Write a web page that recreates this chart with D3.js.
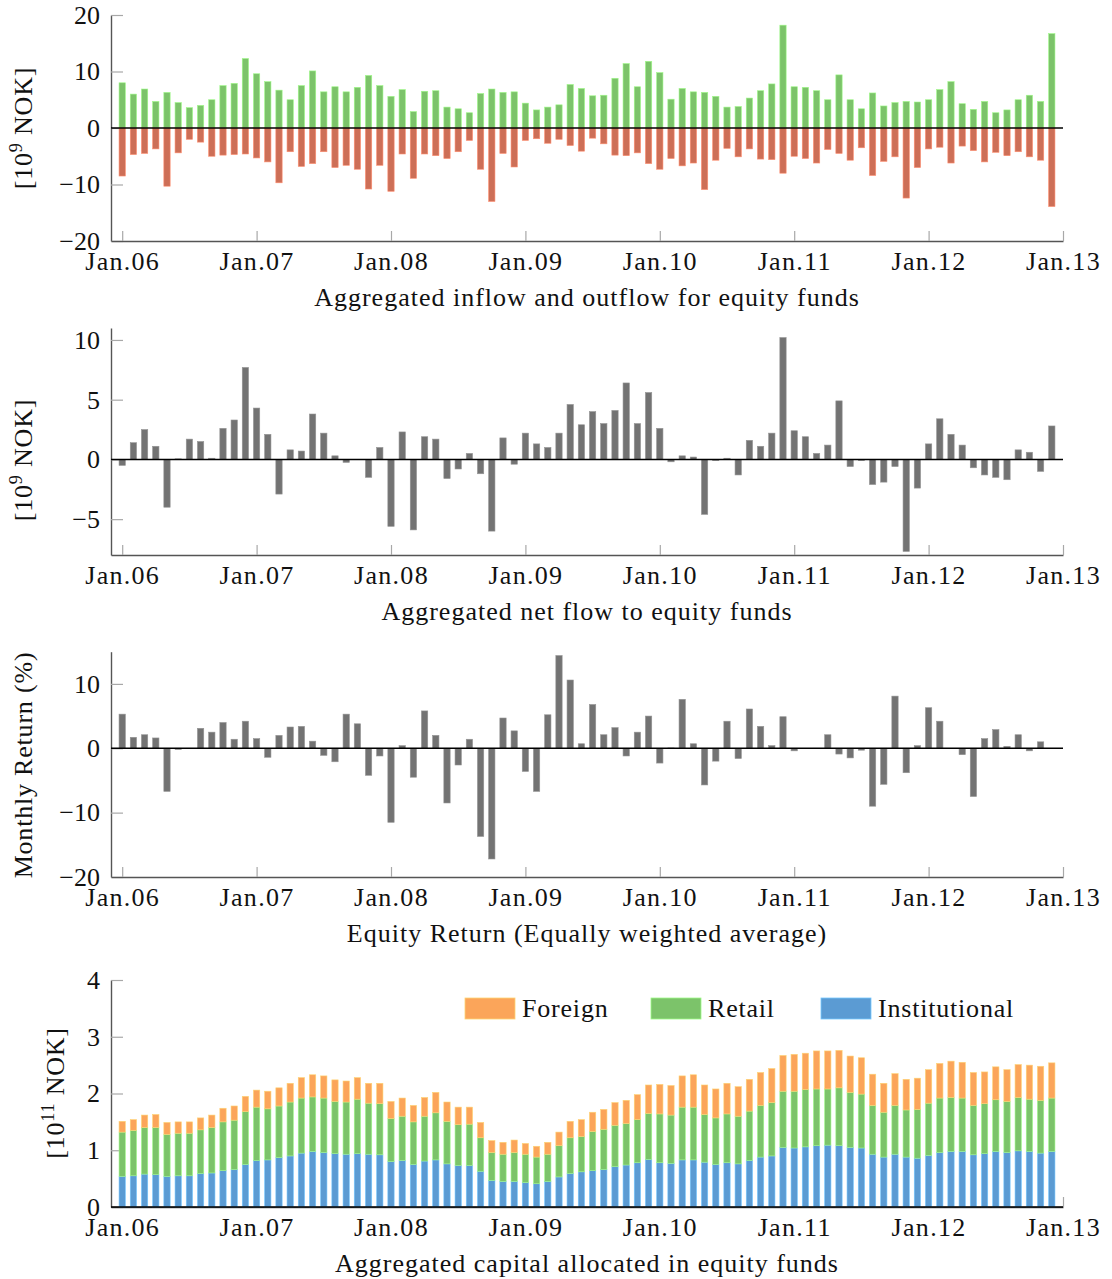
<!DOCTYPE html>
<html>
<head>
<meta charset="utf-8">
<script src="https://cdn.jsdelivr.net/npm/d3@7"></script>
<style>
  body { margin: 0; background: #fff; }
  svg text { font-family: "Liberation Serif", "Times New Roman", serif; fill: #111; }
</style>
</head>
<body>
<div id="vis"></div>
<script>
// month index 0 = Jan.06 ... 83 = Dec.12
const tickLabels = ["Jan.06", "Jan.07", "Jan.08", "Jan.09", "Jan.10", "Jan.11", "Jan.12", "Jan.13"];

const inflow = [
  8.0, 6.0, 6.9, 4.7, 6.3, 4.5, 3.6, 4.0, 5.0, 7.5, 7.9, 12.3,
  9.6, 8.2, 6.7, 5.0, 7.5, 10.1, 6.4, 7.3, 6.4, 7.2, 9.3, 7.5,
  5.6, 6.8, 2.9, 6.5, 6.6, 3.7, 3.4, 2.7, 6.1, 6.9, 6.3, 6.4,
  4.4, 3.2, 3.7, 4.1, 7.7, 7.0, 5.7, 5.8, 8.8, 11.4, 7.3, 11.8,
  9.8, 5.1, 7.0, 6.4, 6.3, 5.6, 3.7, 3.8, 5.3, 6.6, 7.8, 18.2,
  7.3, 7.2, 6.6, 5.0, 9.4, 5.0, 3.4, 6.2, 3.9, 4.5, 4.7, 4.6,
  5.0, 6.8, 8.2, 4.3, 3.3, 4.7, 2.7, 3.2, 5.0, 5.8, 4.7, 16.7
];

const outflow = [
  -8.5, -4.7, -4.5, -3.7, -10.3, -4.4, -2.0, -2.5, -5.0, -4.8, -4.7, -4.6,
  -5.3, -6.0, -9.7, -4.2, -6.8, -6.3, -4.2, -7.0, -6.6, -7.3, -10.8, -6.6,
  -11.2, -4.6, -8.9, -4.6, -4.9, -5.4, -4.2, -2.2, -7.3, -13.0, -4.5, -6.9,
  -2.2, -1.9, -2.7, -2.0, -3.1, -4.1, -1.8, -2.8, -4.8, -4.9, -4.4, -6.3,
  -7.3, -5.4, -6.7, -6.2, -10.9, -5.7, -3.6, -5.1, -3.7, -5.5, -5.6, -8.0,
  -5.0, -5.4, -6.2, -3.8, -4.5, -5.7, -3.5, -8.4, -5.9, -5.1, -12.4, -7.0,
  -3.7, -3.4, -6.2, -3.2, -4.0, -6.0, -4.3, -4.9, -4.2, -5.1, -5.7, -13.9
];

const netFlow = [
  -0.5, 1.4, 2.5, 1.1, -4.0, 0.05, 1.7, 1.5, 0.1, 2.6, 3.3, 7.7,
  4.3, 2.1, -2.9, 0.8, 0.7, 3.8, 2.2, 0.3, -0.25, 0, -1.5, 1.0,
  -5.6, 2.3, -5.9, 1.9, 1.7, -1.6, -0.8, 0.5, -1.2, -6.0, 1.8, -0.4,
  2.2, 1.3, 1.0, 2.2, 4.6, 2.9, 4.0, 3.0, 4.1, 6.4, 3.0, 5.6,
  2.6, -0.2, 0.3, 0.2, -4.6, -0.1, 0.1, -1.3, 1.6, 1.1, 2.2, 10.2,
  2.4, 1.9, 0.5, 1.2, 4.9, -0.6, -0.1, -2.1, -1.9, -0.6, -7.7, -2.4,
  1.3, 3.4, 2.1, 1.2, -0.7, -1.3, -1.5, -1.7, 0.8, 0.6, -1.0, 2.8
];

// Dec.12 missing
const monthlyReturn = [
  5.3, 1.7, 2.1, 1.6, -6.7, -0.2, -0.05, 3.1, 2.5, 4.0, 1.4, 4.2,
  1.5, -1.4, 2.0, 3.3, 3.4, 1.1, -1.1, -2.1, 5.3, 3.8, -4.2, -1.2,
  -11.5, 0.4, -4.5, 5.8, 2.0, -8.5, -2.6, 1.4, -13.7, -17.2, 4.7, 2.7,
  -3.6, -6.7, 5.2, 14.4, 10.6, 0.7, 6.8, 2.1, 3.2, -1.2, 2.5, 5.0,
  -2.3, 0.05, 7.6, 0.7, -5.7, -2.0, 4.2, -1.6, 6.1, 3.4, 0.4, 4.9,
  -0.4, 0.0, -0.05, 2.1, -0.9, -1.5, -0.3, -9.0, -5.6, 8.1, -3.8, 0.4,
  6.3, 4.2, 0.0, -1.0, -7.5, 1.5, 2.9, 0.3, 2.1, -0.4, 1.0
];

const institutional = [
  0.54, 0.55, 0.58, 0.57, 0.54, 0.55, 0.55, 0.59, 0.60, 0.64, 0.66, 0.75,
  0.82, 0.83, 0.87, 0.90, 0.95, 0.98, 0.96, 0.94, 0.93, 0.94, 0.93, 0.92,
  0.80, 0.82, 0.75, 0.81, 0.83, 0.76, 0.73, 0.73, 0.63, 0.47, 0.45, 0.45,
  0.43, 0.41, 0.45, 0.53, 0.59, 0.62, 0.64, 0.66, 0.71, 0.74, 0.78, 0.84,
  0.78, 0.77, 0.83, 0.83, 0.79, 0.75, 0.78, 0.76, 0.82, 0.88, 0.90, 1.05,
  1.04, 1.06, 1.08, 1.09, 1.08, 1.05, 1.04, 0.93, 0.88, 0.93, 0.88, 0.86,
  0.91, 0.96, 0.98, 0.98, 0.92, 0.94, 0.98, 0.96, 0.99, 0.98, 0.95, 0.98
];
const retail = [
  0.78, 0.80, 0.82, 0.83, 0.74, 0.75, 0.75, 0.77, 0.80, 0.86, 0.87, 0.93,
  0.94, 0.90, 0.91, 0.95, 0.97, 0.96, 0.96, 0.92, 0.92, 0.96, 0.90, 0.90,
  0.76, 0.78, 0.75, 0.79, 0.83, 0.75, 0.72, 0.73, 0.59, 0.49, 0.48, 0.51,
  0.50, 0.47, 0.48, 0.55, 0.63, 0.62, 0.69, 0.71, 0.73, 0.73, 0.76, 0.81,
  0.86, 0.85, 0.93, 0.93, 0.84, 0.82, 0.86, 0.84, 0.87, 0.91, 0.94, 0.99,
  1.00, 1.01, 1.00, 0.99, 1.02, 0.97, 0.95, 0.86, 0.79, 0.86, 0.83, 0.86,
  0.92, 0.96, 0.95, 0.94, 0.87, 0.88, 0.91, 0.90, 0.94, 0.92, 0.93, 0.94
];
const foreign = [
  0.19, 0.19, 0.22, 0.23, 0.21, 0.20, 0.20, 0.21, 0.22, 0.24, 0.25, 0.27,
  0.30, 0.31, 0.32, 0.33, 0.36, 0.39, 0.39, 0.38, 0.37, 0.38, 0.35, 0.36,
  0.30, 0.32, 0.29, 0.33, 0.36, 0.34, 0.31, 0.30, 0.27, 0.21, 0.21, 0.22,
  0.19, 0.19, 0.21, 0.24, 0.29, 0.30, 0.34, 0.35, 0.40, 0.41, 0.44, 0.50,
  0.52, 0.52, 0.55, 0.57, 0.52, 0.51, 0.54, 0.52, 0.56, 0.58, 0.60, 0.63,
  0.65, 0.64, 0.67, 0.67, 0.66, 0.64, 0.64, 0.55, 0.51, 0.56, 0.54, 0.55,
  0.59, 0.61, 0.64, 0.63, 0.58, 0.56, 0.58, 0.56, 0.58, 0.60, 0.60, 0.62
];

const colors = {
  inflow: "#7cc36a", outflow: "#cd6f57", gray: "#737373",
  institutional: "#5b9bd3", retail: "#7cc36a", foreign: "#fba55a"
};

const svg = d3.select("#vis").append("svg")
  .attr("width", 1112)
  .attr("height", 1279);

const x = d3.scaleLinear().domain([-1, 84]).range([111, 1063]);
const barW = 6.3;
const fontSize = 26;

function drawFrame(y, yTicks, title) {
  const g = svg.append("g");
  const y0 = y.range()[0];

  const yAx = g.append("g")
    .attr("transform", `translate(${x.range()[0]},0)`)
    .call(d3.axisLeft(y).tickValues(yTicks).tickSizeInner(-12).tickSizeOuter(0).tickPadding(11).tickFormat(d3.format("d")));

  const xAx = g.append("g")
    .attr("transform", `translate(0,${y0})`)
    .call(d3.axisBottom(x).tickValues(d3.range(0, 85, 12)).tickFormat((d, i) => tickLabels[i])
      .tickSizeInner(-10).tickSizeOuter(0).tickPadding(11));

  [yAx, xAx].forEach(a => {
    a.select(".domain").attr("stroke", "#555").attr("stroke-width", 1.4);
    a.selectAll(".tick line").attr("stroke", "#a8a8a8").attr("stroke-width", 1.2);
    a.selectAll("text").attr("font-size", fontSize).attr("font-family", null).attr("fill", "#111");
  });
  xAx.selectAll("text").attr("letter-spacing", 1.3);

  g.append("text")
    .attr("x", (x.range()[0] + x.range()[1]) / 2)
    .attr("y", y0 + 65)
    .attr("text-anchor", "middle")
    .attr("font-size", fontSize)
    .attr("letter-spacing", 1)
    .text(title);
  return g;
}

function yLabel(cx, cy, parts) {
  const t = svg.append("text")
    .attr("transform", `translate(${cx},${cy}) rotate(-90)`)
    .attr("text-anchor", "middle")
    .attr("font-size", fontSize)
    .attr("letter-spacing", 0.8);
  parts.forEach(p => {
    const s = t.append("tspan").text(p.t);
    if (p.sup) s.attr("font-size", fontSize * 0.7).attr("dy", -10);
    if (p.down) s.attr("dy", 10);
  });
}

function bars(g, y, values, fill) {
  g.append("g").selectAll("rect")
    .data(values)
    .join("rect")
    .attr("x", (d, i) => x(i) - barW / 2)
    .attr("y", d => y(Math.max(0, d)))
    .attr("width", barW)
    .attr("height", d => Math.abs(y(d) - y(0)))
    .attr("fill", fill)
    .attr("stroke", d3.color(fill).brighter(0.7))
    .attr("stroke-width", 0.6);
}

function zeroLine(g, y) {
  g.append("line")
    .attr("x1", x.range()[0]).attr("x2", x.range()[1])
    .attr("y1", y(0)).attr("y2", y(0))
    .attr("stroke", "#000").attr("stroke-width", 1.5);
}

// Panel 1: inflow / outflow
const y1 = d3.scaleLinear().domain([-20, 20]).range([241, 15]);
const g1 = drawFrame(y1, [-20, -10, 0, 10, 20], "Aggregated inflow and outflow for equity funds");
bars(g1, y1, inflow, colors.inflow);
bars(g1, y1, outflow, colors.outflow);
zeroLine(g1, y1);
yLabel(32, 128, [{ t: "[10" }, { t: "9", sup: true }, { t: " NOK]", down: true }]);

// Panel 2: net flow
const y2 = d3.scaleLinear().domain([-8, 11]).range([555, 328]);
const g2 = drawFrame(y2, [-5, 0, 5, 10], "Aggregated net flow to equity funds");
bars(g2, y2, netFlow, colors.gray);
zeroLine(g2, y2);
yLabel(32, 460, [{ t: "[10" }, { t: "9", sup: true }, { t: " NOK]", down: true }]);

// Panel 3: monthly return
const y3 = d3.scaleLinear().domain([-20, 15]).range([877, 651.7]);
const g3 = drawFrame(y3, [-20, -10, 0, 10], "Equity Return (Equally weighted average)");
bars(g3, y3, monthlyReturn, colors.gray);
zeroLine(g3, y3);
yLabel(32, 765, [{ t: "Monthly Return (%)" }]);

// Panel 4: capital allocated, stacked
const y4 = d3.scaleLinear().domain([0, 4]).range([1207, 980]);
const g4 = drawFrame(y4, [0, 1, 2, 3, 4], "Aggregated capital allocated in equity funds");
const capTable = institutional.map((v, i) => ({ institutional: v, retail: retail[i], foreign: foreign[i] }));
const layers = d3.stack().keys(["institutional", "retail", "foreign"])(capTable);
g4.append("g").selectAll("g")
  .data(layers)
  .join("g")
  .attr("fill", d => colors[d.key])
  .attr("stroke", d => d3.color(colors[d.key]).brighter(0.7))
  .attr("stroke-width", 0.6)
  .selectAll("rect")
  .data(d => d)
  .join("rect")
  .attr("x", (d, i) => x(i) - barW / 2)
  .attr("y", d => y4(d[1]))
  .attr("width", barW)
  .attr("height", d => y4(d[0]) - y4(d[1]));
g4.append("line")
  .attr("x1", x.range()[0]).attr("x2", x.range()[1])
  .attr("y1", y4(0)).attr("y2", y4(0))
  .attr("stroke", "#000").attr("stroke-width", 1.5);
yLabel(64, 1093, [{ t: "[10" }, { t: "11", sup: true }, { t: " NOK]", down: true }]);

// Legend
const legendItems = [
  { key: "foreign", label: "Foreign", x: 465 },
  { key: "retail", label: "Retail", x: 651 },
  { key: "institutional", label: "Institutional", x: 821 }
];
const legend = svg.append("g").attr("transform", "translate(0,998)");
legendItems.forEach(d => {
  legend.append("rect").attr("x", d.x).attr("y", 0).attr("width", 50).attr("height", 21)
    .attr("fill", colors[d.key]).attr("stroke", d3.color(colors[d.key]).brighter(0.7)).attr("stroke-width", 0.8);
  legend.append("text").attr("x", d.x + 57).attr("y", 19).attr("font-size", fontSize)
    .attr("letter-spacing", 0.8).text(d.label);
});
</script>
</body>
</html>
